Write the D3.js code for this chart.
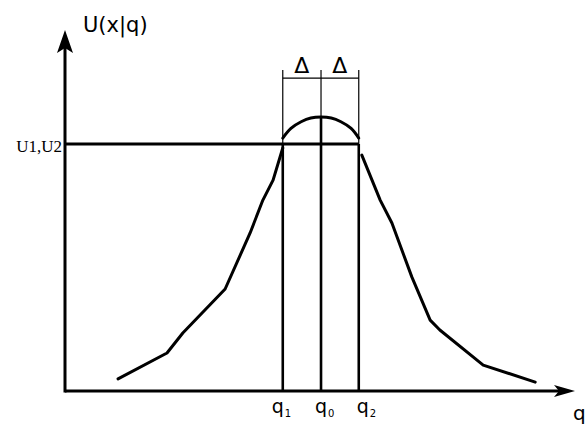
<!DOCTYPE html>
<html><head><meta charset="utf-8">
<script src="https://cdn.jsdelivr.net/npm/d3@7"></script>
<style>html,body{margin:0;padding:0;background:#fff;}svg{display:block;}</style>
</head><body>
<svg id="c" width="586" height="427"></svg>
<script>
// ---- data ----
const qNames = ["q", "q", "q"];
const qSubs = ["1", "0", "2"];
const qValues = [4.27, 5.02, 5.76];
const levelLabel = "U1,U2";
const levelValue = 1.0;
const deltaLabel = "Δ";
const leftBranch = [[1.04,0.049],[2.0,0.154],[2.31,0.235],[3.14,0.413],[3.63,0.640],[3.88,0.773],[4.08,0.854],[4.27,0.984]];
const capQ = [4.27,4.43,4.63,4.82,5.02,5.22,5.41,5.61,5.76];
const capU = [1.024,1.063,1.090,1.105,1.109,1.105,1.090,1.063,1.024];
const rightBranch = [[5.82,0.955],[6.18,0.773],[6.41,0.680],[6.80,0.462],[7.16,0.287],[7.35,0.247],[8.20,0.105],[9.22,0.036]];
const qMax = 10, uMax = 1.462;
const dimTop = 1.300, dimLine = 1.267;
const yTitle = "U(x|q)", xTitle = "q";

// ---- scales ----
const svg = d3.select("#c");
const x = d3.scaleLinear().domain([0, qMax]).range([65, 575]);
const y = d3.scaleLinear().domain([0, 1]).range([391, 144]);
const line = d3.line().x(d => x(d[0])).y(d => y(d[1]));

// axes
svg.append("line").attr("x1", x(0)).attr("x2", x(qMax) - 8).attr("y1", y(0)).attr("y2", y(0))
  .attr("stroke", "#000").attr("stroke-width", 3);
svg.append("line").attr("x1", x(0)).attr("x2", x(0)).attr("y1", y(0) + 1.5).attr("y2", y(uMax) + 10)
  .attr("stroke", "#000").attr("stroke-width", 3);
// arrows
const tx = x(qMax), ty = y(0);
svg.append("path").attr("d", `M${tx},${ty} L${tx-21},${ty-6} L${tx-16},${ty} L${tx-21},${ty+6} Z`).attr("fill", "#000");
const ax = x(0), ay = y(uMax);
svg.append("path").attr("d", `M${ax},${ay} L${ax+8},${ay+23} L${ax},${ay+18} L${ax-8},${ay+23} Z`).attr("fill", "#000");

// level line
svg.append("line").attr("x1", x(0)).attr("x2", x(qValues[2])).attr("y1", y(levelValue)).attr("y2", y(levelValue))
  .attr("stroke", "#000").attr("stroke-width", 3);

// vertical q lines (thick, below level)
qValues.forEach((v, i) => {
  const top = i === 1 ? y(capU[4]) : y(levelValue);
  svg.append("line").attr("x1", x(v)).attr("x2", x(v)).attr("y1", top).attr("y2", y(0))
    .attr("stroke", "#000").attr("stroke-width", 2.6);
  // thin extension lines
  svg.append("line").attr("x1", x(v)).attr("x2", x(v)).attr("y1", y(dimTop)).attr("y2", top)
    .attr("stroke", "#000").attr("stroke-width", 1.2);
});
// dimension line
svg.append("line").attr("x1", x(qValues[0])).attr("x2", x(qValues[2])).attr("y1", y(dimLine)).attr("y2", y(dimLine))
  .attr("stroke", "#000").attr("stroke-width", 1.2);
// delta labels
[[qValues[0], qValues[1]], [qValues[1], qValues[2]]].forEach(p => {
  svg.append("text").attr("x", (x(p[0]) + x(p[1])) / 2).attr("y", y(dimLine) - 5)
    .attr("text-anchor", "middle").attr("font-family", "DejaVu Sans").attr("font-size", 22)
    .text(deltaLabel);
});

// curve
const curveStyle = s => s.attr("fill", "none").attr("stroke", "#000").attr("stroke-width", 3)
  .attr("stroke-linejoin", "round").attr("stroke-linecap", "round");
svg.append("path").attr("d", line(leftBranch)).call(curveStyle);
svg.append("path").attr("d", line(rightBranch)).call(curveStyle);
svg.append("path").attr("d", d3.line().curve(d3.curveNatural).x(d => x(d[0])).y(d => y(d[1]))(capQ.map((q, i) => [q, capU[i]])))
  .call(curveStyle);

// level label
svg.append("text").attr("x", x(0) - 3).attr("y", y(levelValue) + 8)
  .attr("text-anchor", "end").attr("font-family", "Liberation Serif").attr("font-size", 17)
  .text(levelLabel);

// q labels
const qOffsets = [-11, -6, -2];
qValues.forEach((v, i) => {
  const t = svg.append("text").attr("x", x(v) + qOffsets[i]).attr("y", 413)
    .attr("font-family", "DejaVu Sans").attr("font-size", 19);
  t.append("tspan").text(qNames[i]);
  t.append("tspan").attr("font-size", 10).attr("dy", 4).attr("dx", 1).text(qSubs[i]);
});

// axis titles
svg.append("text").attr("x", x(qMax) - 2).attr("y", 420).attr("font-family", "DejaVu Sans").attr("font-size", 20).text(xTitle);
svg.append("text").attr("x", 83).attr("y", 32).attr("font-family", "DejaVu Sans").attr("font-size", 21).text(yTitle);
</script>
</body></html>
